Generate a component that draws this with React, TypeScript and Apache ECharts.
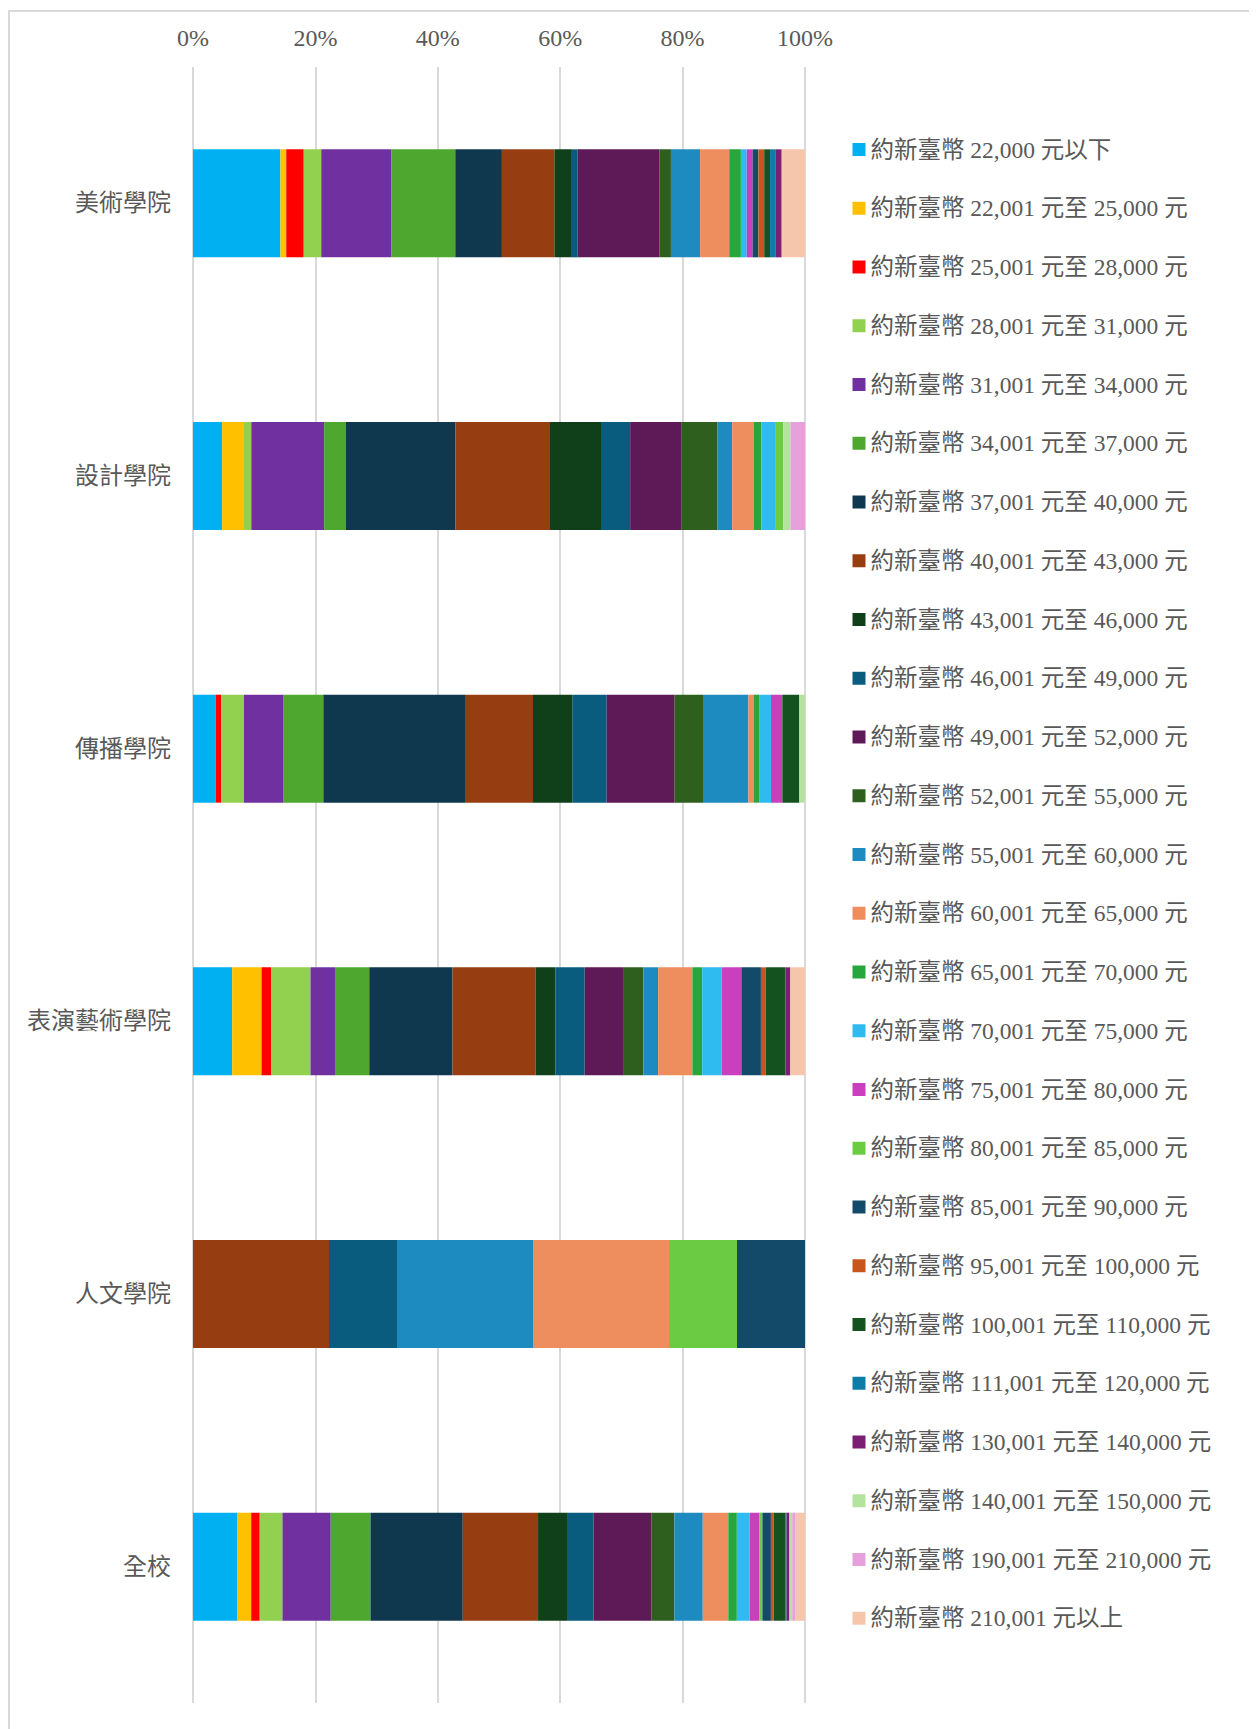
import React, { useEffect, useRef } from "react";
import * as echarts from "echarts";

const categories = ["美術學院", "設計學院", "傳播學院", "表演藝術學院", "人文學院", "全校"];

const brackets = [
  "約新臺幣 22,000 元以下",
  "約新臺幣 22,001 元至 25,000 元",
  "約新臺幣 25,001 元至 28,000 元",
  "約新臺幣 28,001 元至 31,000 元",
  "約新臺幣 31,001 元至 34,000 元",
  "約新臺幣 34,001 元至 37,000 元",
  "約新臺幣 37,001 元至 40,000 元",
  "約新臺幣 40,001 元至 43,000 元",
  "約新臺幣 43,001 元至 46,000 元",
  "約新臺幣 46,001 元至 49,000 元",
  "約新臺幣 49,001 元至 52,000 元",
  "約新臺幣 52,001 元至 55,000 元",
  "約新臺幣 55,001 元至 60,000 元",
  "約新臺幣 60,001 元至 65,000 元",
  "約新臺幣 65,001 元至 70,000 元",
  "約新臺幣 70,001 元至 75,000 元",
  "約新臺幣 75,001 元至 80,000 元",
  "約新臺幣 80,001 元至 85,000 元",
  "約新臺幣 85,001 元至 90,000 元",
  "約新臺幣 95,001 元至 100,000 元",
  "約新臺幣 100,001 元至 110,000 元",
  "約新臺幣 111,001 元至 120,000 元",
  "約新臺幣 130,001 元至 140,000 元",
  "約新臺幣 140,001 元至 150,000 元",
  "約新臺幣 190,001 元至 210,000 元",
  "約新臺幣 210,001 元以上",
];

const colors = [
  "#00B0F0", "#FFC000", "#FF0000", "#92D050", "#7030A0", "#4EA72E",
  "#0F384E", "#963E12", "#10401A", "#0A5C7E", "#5E1A56", "#2F5F1E",
  "#1E8BC0", "#EE8E5F", "#27A63D", "#30BBF0", "#C93FBD", "#6BCC44",
  "#144A69", "#C8561C", "#145320", "#0E7CA7", "#7A1F72", "#B4E3A0",
  "#E6A0DC", "#F5C6AB",
];

// respondent counts per salary bracket (same order as brackets)
const fineArts = [15, 1, 3, 3, 12, 11, 8, 9, 3, 1, 14, 2, 5, 5, 2, 1, 1, 0, 1, 1, 1, 1, 1, 0, 0, 4];
const design = [4, 3, 0, 1, 10, 3, 15, 13, 7, 4, 7, 5, 2, 3, 1, 2, 0, 1, 0, 0, 0, 0, 0, 1, 2, 0];
const communication = [4, 0, 1, 4, 7, 7, 25, 12, 7, 6, 12, 5, 8, 1, 1, 2, 2, 0, 0, 0, 3, 0, 0, 1, 0, 0];
const performingArts = [8, 6, 2, 8, 5, 7, 17, 17, 4, 6, 8, 4, 3, 7, 2, 4, 4, 0, 4, 1, 4, 0, 1, 0, 0, 3];
const humanities = [0, 0, 0, 0, 0, 0, 0, 2, 0, 1, 0, 0, 2, 2, 0, 0, 0, 1, 1, 0, 0, 0, 0, 0, 0, 0];
const wholeSchool = [31, 10, 6, 16, 34, 28, 65, 53, 21, 18, 41, 16, 20, 18, 6, 9, 7, 2, 6, 2, 8, 1, 2, 2, 2, 7];

const xTicks = [0, 20, 40, 60, 80, 100];

const FONT = '"Liberation Serif", "Noto Sans CJK TC", serif';
const TEXT = "#595959";

export default function App() {
  const ref = useRef<HTMLDivElement>(null);
  useEffect(() => {
    if (!ref.current) return;
    const chart = echarts.init(ref.current, undefined, { renderer: "svg" });
    const rows = [fineArts, design, communication, performingArts, humanities, wholeSchool];
    const totals = rows.map((r) => r.reduce((a, b) => a + b, 0));
    const series = brackets.map((name, i) => ({
      name,
      type: "bar",
      stack: "total",
      barWidth: 108,
      itemStyle: { color: colors[i] },
      data: rows.map((r, c) => (r[i] === 0 ? "-" : (r[i] / totals[c]) * 100)),
    }));
    chart.setOption({
      animation: false,
      textStyle: { fontFamily: FONT },
      graphic: [
        {
          type: "rect",
          shape: { x: 1, y: 3, width: 1400, height: 2000 },
          style: { fill: "none", stroke: "#d9d9d9", lineWidth: 2 },
          silent: true,
        },
      ],
      grid: { left: 185, right: 452, top: 59, bottom: 26, containLabel: false },
      xAxis: {
        type: "value",
        position: "top",
        min: xTicks[0],
        max: xTicks[xTicks.length - 1],
        interval: xTicks[1] - xTicks[0],
        axisLine: { show: false },
        axisTick: { show: false },
        axisLabel: {
          formatter: "{value}%",
          color: TEXT,
          fontSize: 24,
          fontFamily: FONT,
          margin: 17,
        },
        splitLine: { show: true, lineStyle: { color: "#d9d9d9", width: 2 } },
      },
      yAxis: {
        type: "category",
        data: categories,
        inverse: true,
        axisLine: { show: false },
        axisTick: { show: false },
        axisLabel: { color: TEXT, fontSize: 24, fontFamily: FONT, margin: 22 },
      },
      legend: {
        orient: "vertical",
        left: 839.5,
        top: 122.5,
        itemWidth: 13,
        itemHeight: 13,
        itemGap: 30.75,
        icon: "rect",
        textStyle: { color: TEXT, fontSize: 23.5, fontFamily: FONT, lineHeight: 28, padding: [0, 0, 0, 0] },
        data: brackets,
      },
      series,
    });
    return () => chart.dispose();
  }, []);
  return <div ref={ref} style={{ width: 1249, height: 1721 }} />;
}
